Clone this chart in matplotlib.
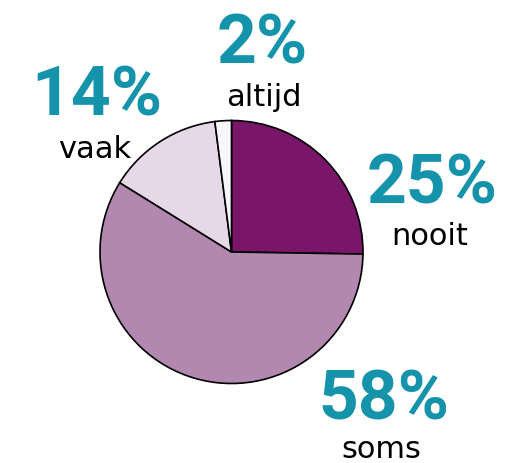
import matplotlib.pyplot as plt
from matplotlib import font_manager

labels = ["nooit", "soms", "vaak", "altijd"]
values = [25, 58, 14, 2]
pct_text = ["25%", "58%", "14%", "2%"]
colors = ["#7a1669", "#b388b0", "#e6d8e8", "#f7f7fb"]

# label placement in pixel coords (x center, baseline from top)
pct_pos = [(432, 203), (384, 420), (97, 115), (262, 63)]
name_pos = [(430, 245), (381, 458), (95, 158), (264, 106)]

W, H = 515, 463
fig = plt.figure(figsize=(W / 100, H / 100), dpi=100)
ax = fig.add_axes([0, 0, 1, 1])

ax.pie(values, colors=colors, startangle=90, counterclock=False,
       center=(231.5, H - 252), radius=131.5, frame=True,
       wedgeprops={"edgecolor": "black", "linewidth": 1.2})
ax.set_xlim(0, W)
ax.set_ylim(0, H)
ax.set_aspect("equal")
ax.axis("off")

names = {f.name for f in font_manager.fontManager.ttflist}
pct_font = "Roboto" if "Roboto" in names else "DejaVu Sans"
pct_size = 50 if pct_font == "Roboto" else 36

for txt, (x, y) in zip(pct_text, pct_pos):
    ax.text(x, H - y, txt, ha="center", va="baseline", fontsize=pct_size,
            fontweight="bold", color="#1493aa", family=[pct_font, "DejaVu Sans"])
for txt, (x, y) in zip(labels, name_pos):
    ax.text(x, H - y, txt, ha="center", va="baseline", fontsize=22,
            color="black", family=["DejaVu Sans"])

fig.savefig("out.png", dpi=100)
